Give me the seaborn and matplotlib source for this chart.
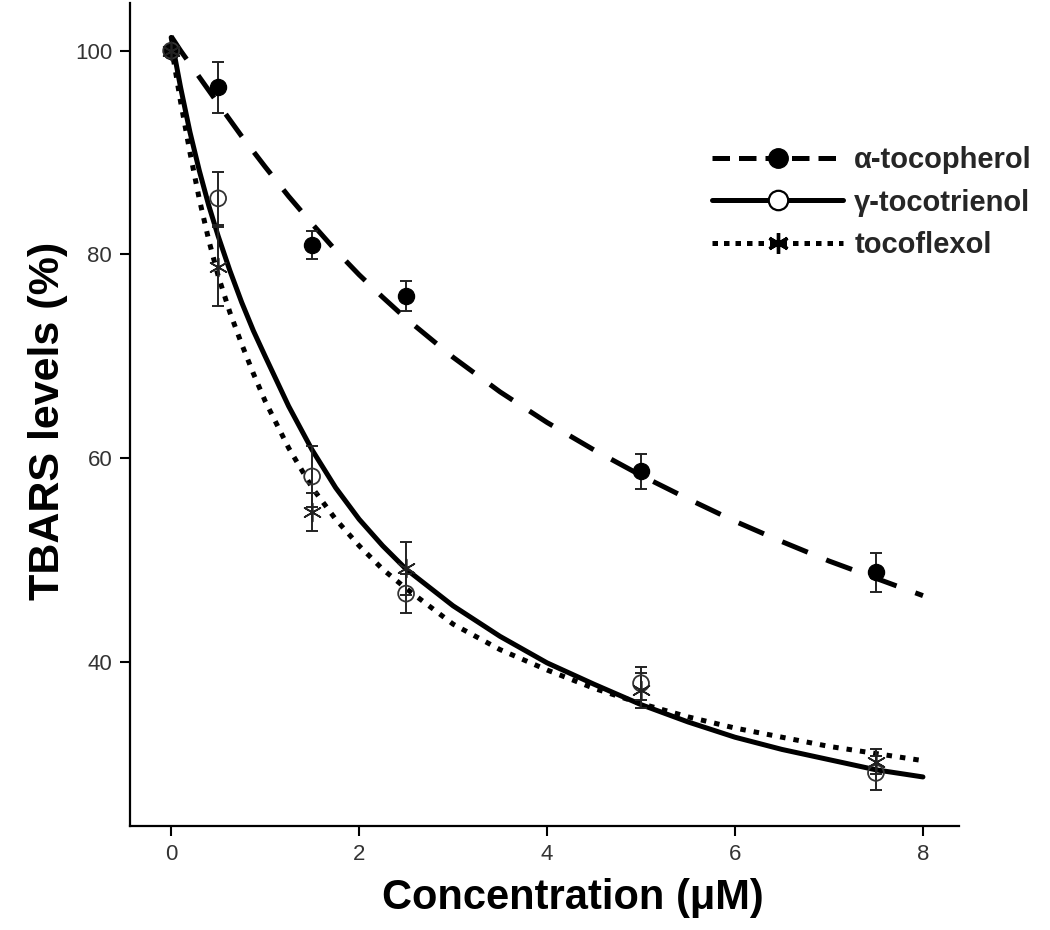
import matplotlib
matplotlib.use("Agg")
import matplotlib.pyplot as plt
from matplotlib.lines import Line2D
import pandas as pd
import seaborn as sns

# measured points (mean +/- error)
conc = [0, 0.5, 1.5, 2.5, 5, 7.5]
alpha_toc = [100, 96.4, 80.9, 75.9, 58.7, 48.8]
alpha_err = [0, 2.5, 1.4, 1.5, 1.75, 1.9]
gamma_t3 = [100, 85.5, 58.2, 46.7, 37.9, 29.1]
gamma_err = [0, 2.6, 3.0, 1.9, 1.6, 1.7]
tocoflex = [100, 78.8, 54.7, 49.2, 37.2, 30.2]
tocoflex_err = [0, 3.9, 1.9, 2.6, 1.7, 1.2]

# fitted curves
fit_x = [0, 0.1, 0.2, 0.3, 0.4, 0.5, 0.625, 0.75, 0.875, 1.0, 1.25, 1.5, 1.75, 2.0, 2.25,
         2.5, 3.0, 3.5, 4.0, 4.5, 5.0, 5.5, 6.0, 6.5, 7.0, 7.5, 8.0]
fit_alpha = [101.4, 100.0, 98.7, 97.4, 96.1, 94.8, 93.2, 91.6, 90.1, 88.6, 85.7, 83.0, 80.4,
             78.0, 75.8, 73.7, 69.9, 66.5, 63.5, 60.8, 58.3, 56.0, 53.8, 51.8, 49.9, 48.2, 46.5]
fit_gamma = [101.3, 96.4, 92.0, 88.2, 84.8, 81.8, 78.4, 75.3, 72.5, 70.0, 65.1, 60.8, 57.1,
             54.0, 51.4, 49.1, 45.5, 42.5, 39.9, 37.8, 35.8, 34.1, 32.6, 31.4, 30.4, 29.4, 28.7]
fit_tocoflex = [100.5, 95.0, 90.0, 85.4, 81.4, 77.9, 74.3, 71.2, 68.3, 65.6, 61.0, 57.1, 54.0,
                51.4, 49.1, 47.2, 43.7, 41.2, 39.2, 37.4, 35.9, 34.6, 33.5, 32.6, 31.7, 31.0, 30.3]

labels = ["α-tocopherol", "γ-tocotrienol", "tocoflexol"]

sns.set_style("ticks")
plt.rcParams["font.family"] = ["Liberation Sans", "DejaVu Sans"]

fig = plt.figure(figsize=(10.5, 9.3), dpi=100)
ax = fig.add_axes([0.124, 0.112, 0.789, 0.885])

fits = pd.DataFrame({"x": fit_x, "a": fit_alpha, "g": fit_gamma, "t": fit_tocoflex})
lw = 3.6
dash = (0, (5.5, 4))
dot = (0, (1.1, 1.6))
sns.lineplot(data=fits, x="x", y="a", ax=ax, color="black", linewidth=lw, linestyle=dash)
sns.lineplot(data=fits, x="x", y="g", ax=ax, color="black", linewidth=lw, linestyle="-")
sns.lineplot(data=fits, x="x", y="t", ax=ax, color="black", linewidth=lw, linestyle=dot)

pts = pd.DataFrame({"x": conc, "a": alpha_toc, "g": gamma_t3, "t": tocoflex})
for col, err in [("a", alpha_err), ("g", gamma_err), ("t", tocoflex_err)]:
    ax.errorbar(pts["x"], pts[col], yerr=err, fmt="none", ecolor="#222222",
                elinewidth=1.4, capsize=4, capthick=1.4, zorder=4)

sns.scatterplot(data=pts, x="x", y="a", ax=ax, marker="o", s=135, color="black",
                edgecolor="black", zorder=5)
sns.scatterplot(data=pts, x="x", y="g", ax=ax, marker="o", s=130, facecolor="none",
                edgecolor="#333333", linewidth=1.3, zorder=5)
sns.scatterplot(data=pts, x="x", y="t", ax=ax, marker=(6, 2, 0), s=170, color="#222222",
                linewidth=1.2, zorder=5)

ax.set_xlim(-0.436, 8.38)
ax.set_ylim(23.9, 104.7)
ax.set_xticks([0, 2, 4, 6, 8])
ax.set_yticks([40, 60, 80, 100])
sns.despine(ax=ax)
for s in ["left", "bottom"]:
    ax.spines[s].set_linewidth(1.6)
    ax.spines[s].set_color("black")
ax.tick_params(length=7, width=1.5, color="black", labelcolor="#333333", labelsize=16, pad=6)

ax.set_xlabel("Concentration (μM)", fontsize=30, fontweight="bold", color="black")
ax.set_ylabel("TBARS levels (%)", fontsize=31, fontweight="bold", color="black")
ax.xaxis.set_label_coords(0.534, -0.063)
ax.yaxis.set_label_coords(-0.075, 0.492)

handles = [
    Line2D([], [], color="black", linewidth=lw, linestyle=(0, (3.5, 1.8)), marker="o",
           markersize=14, markerfacecolor="black"),
    Line2D([], [], color="black", linewidth=lw, linestyle="-", marker="o", markersize=14,
           markerfacecolor="white", markeredgewidth=1.6),
    Line2D([], [], color="black", linewidth=lw, linestyle=(0, (1.1, 1.2)), marker=(6, 2, 0),
           markersize=15, markeredgewidth=2.4),
]
fig.legend(handles, labels, loc="upper left", bbox_to_anchor=(0.678, 0.843), frameon=False,
           borderpad=0, borderaxespad=0, handlelength=4.5, handletextpad=0.38,
           labelspacing=0.5, numpoints=1,
           prop={"family": "Liberation Sans", "weight": "bold", "size": 21})

fig.savefig("out.png", dpi=100)
